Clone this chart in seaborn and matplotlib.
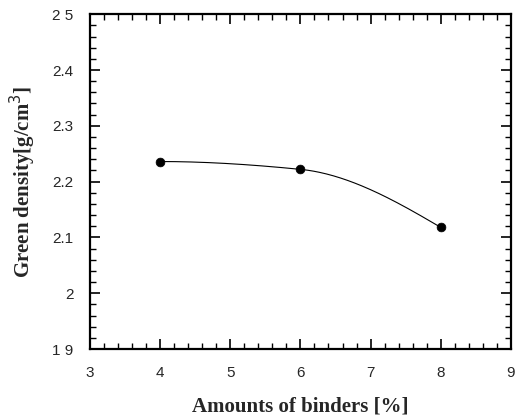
import numpy as np
import pandas as pd
import seaborn as sns
import matplotlib
matplotlib.use("Agg")
import matplotlib.pyplot as plt
from matplotlib.ticker import MultipleLocator

binders = [4, 6, 8]
density = [2.236, 2.222, 2.118]
xticks = [3, 4, 5, 6, 7, 8, 9]
yticks = [1.9, 2.0, 2.1, 2.2, 2.3, 2.4, 2.5]
ytick_labels = ["1 9", "2", "2.1", "2.2", "2.3", "2.4", "2 5"]

sns.set_style("ticks")
plt.rcParams['font.family'] = ['Liberation Sans', 'DejaVu Sans']

df = pd.DataFrame({"binders": binders, "density": density})


def pchip(x, y, xs):
    """Monotone cubic Hermite interpolation (smooth curve through the data)."""
    x = np.asarray(x, float)
    y = np.asarray(y, float)
    h = np.diff(x)
    d = np.diff(y) / h
    m = np.zeros_like(y)
    for k in range(1, len(x) - 1):
        if d[k - 1] * d[k] > 0:
            w1 = 2 * h[k] + h[k - 1]
            w2 = h[k] + 2 * h[k - 1]
            m[k] = (w1 + w2) / (w1 / d[k - 1] + w2 / d[k])
    m[0] = ((2 * h[0] + h[1]) * d[0] - h[0] * d[1]) / (h[0] + h[1])
    if np.sign(m[0]) != np.sign(d[0]):
        m[0] = 0
    m[-1] = ((2 * h[-1] + h[-2]) * d[-1] - h[-1] * d[-2]) / (h[-1] + h[-2])
    if np.sign(m[-1]) != np.sign(d[-1]):
        m[-1] = 0
    out = np.empty_like(xs)
    for i, xv in enumerate(xs):
        k = min(np.searchsorted(x, xv, side="right") - 1, len(x) - 2)
        t = (xv - x[k]) / h[k]
        h00 = 2 * t**3 - 3 * t**2 + 1
        h10 = t**3 - 2 * t**2 + t
        h01 = -2 * t**3 + 3 * t**2
        h11 = t**3 - t**2
        out[i] = h00 * y[k] + h10 * h[k] * m[k] + h01 * y[k + 1] + h11 * h[k] * m[k + 1]
    return out


xs = np.linspace(min(binders), max(binders), 200)
curve = pd.DataFrame({"binders": xs, "density": pchip(binders, density, xs)})

fig = plt.figure(figsize=(5.28, 4.18), dpi=100)
ax = fig.add_axes([0.1705, 0.165, 0.797, 0.801])

sns.lineplot(data=curve, x="binders", y="density", ax=ax, color="black", lw=0.8)
sns.scatterplot(data=df, x="binders", y="density", ax=ax, color="black", s=40,
                edgecolor="black", zorder=3)

ax.set_xlim(3, 9)
ax.set_ylim(1.9, 2.5)
ax.set_xticks(xticks)
ax.set_xticklabels([str(v) for v in xticks])
ax.set_yticks(yticks)
ax.set_yticklabels(ytick_labels)
ax.xaxis.set_minor_locator(MultipleLocator(0.2))
ax.yaxis.set_minor_locator(MultipleLocator(0.02))
ax.tick_params(which="both", direction="in", top=True, right=True, color="black")
ax.tick_params(which="major", length=7, width=1.2, labelsize=11, pad=12)
ax.tick_params(which="minor", length=4, width=1.0)
for s in ax.spines.values():
    s.set_linewidth(1.6)
    s.set_color("black")

ax.set_xlabel("Amounts of binders [%]", fontfamily="Liberation Serif",
              fontweight="bold", fontsize=15, labelpad=12)
ax.set_ylabel("Green density[g/cm$^3$]", fontfamily="Liberation Serif",
              fontweight="bold", fontsize=15, labelpad=10)

fig.savefig("out.png", dpi=100)
